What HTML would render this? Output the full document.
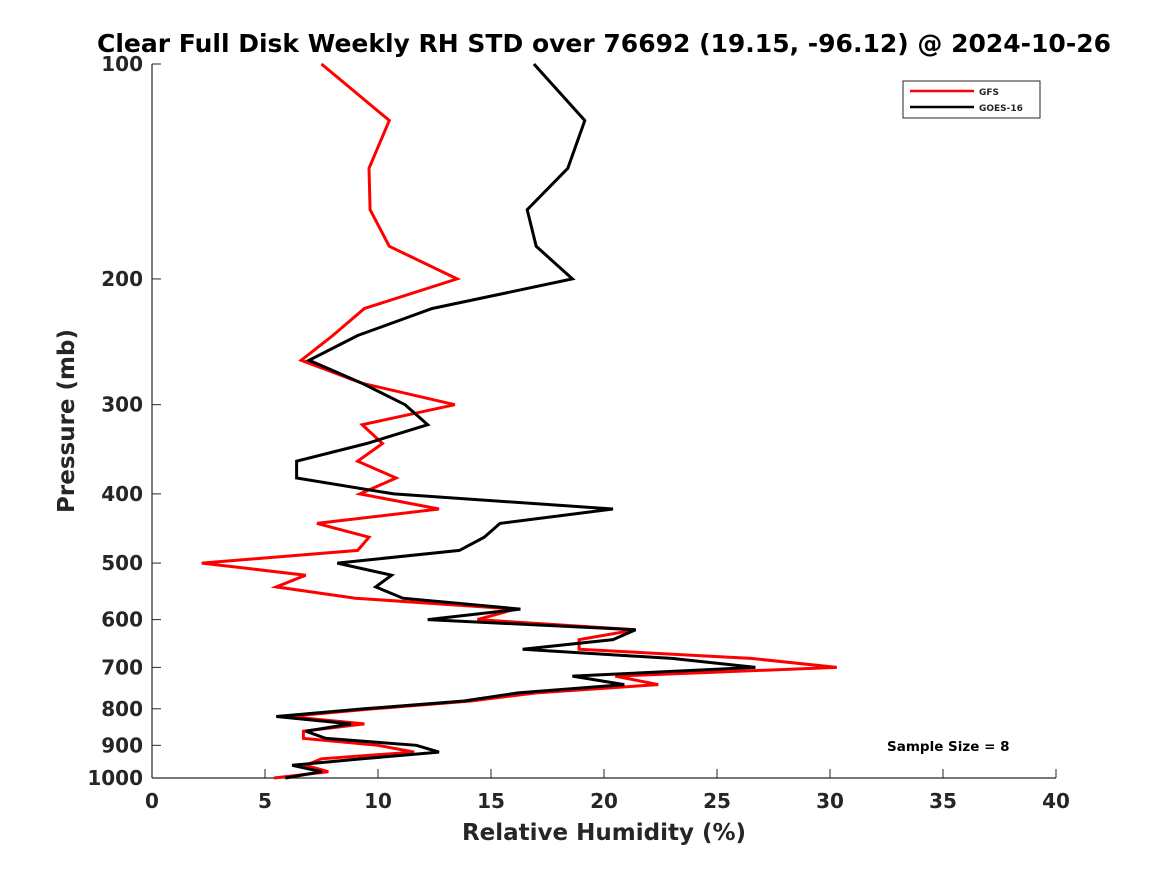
<!DOCTYPE html>
<html><head><meta charset="utf-8"><style>
body{margin:0;background:#fff;}
svg text{font-family:"DejaVu Sans","Liberation Sans",sans-serif;font-weight:bold;fill:#262626;}
</style></head><body>
<svg id="chart" width="1167" height="875" xmlns="http://www.w3.org/2000/svg">
<rect width="1167" height="875" fill="#fff"/>
<text x="604" y="52" font-size="25" text-anchor="middle" style="fill:#000">Clear Full Disk Weekly RH STD over 76692 (19.15, -96.12) @ 2024-10-26</text>
<g id="axes"></g>
<g id="series"></g>
<text x="604" y="840" font-size="23" text-anchor="middle">Relative Humidity (%)</text>
<text transform="translate(74,421) rotate(-90)" font-size="23" text-anchor="middle">Pressure (mb)</text>
<g>
<rect x="903" y="81" width="137" height="37" fill="#fff" stroke="#262626" stroke-width="1"/>
<line x1="910" y1="91" x2="974" y2="91" stroke="#ff0000" stroke-width="2.5"/>
<text x="979" y="95" font-size="9">GFS</text>
<line x1="910" y1="107" x2="974" y2="107" stroke="#000" stroke-width="2.5"/>
<text x="979" y="111" font-size="9">GOES-16</text>
</g>
<text x="887" y="751" font-size="13.5" style="fill:#000">Sample Size = 8</text>
</svg>
<script>
const levels=[100,120,140,160,180,200,220,240,260,280,300,320,340,360,380,400,420,440,460,480,500,520,540,560,580,600,620,640,660,680,700,720,740,760,780,800,820,840,860,880,900,920,940,960,980,1000];
const gfs=[7.5,10.5,9.6,9.65,10.5,13.5,9.4,8.0,6.6,9.3,13.4,9.3,10.2,9.1,10.8,9.2,12.7,7.3,9.6,9.1,2.2,6.8,5.5,9.0,16.1,14.4,21.4,18.9,18.9,26.5,30.3,20.5,22.4,17.0,14.1,9.8,6.0,9.4,6.7,6.7,10.0,11.6,7.5,6.8,7.8,5.4];
const goes=[16.9,19.15,18.4,16.6,17.0,18.6,12.4,9.1,6.95,9.3,11.2,12.2,9.5,6.4,6.4,10.7,20.4,15.4,14.7,13.6,8.2,10.6,9.9,11.1,16.3,12.2,21.4,20.4,16.4,23.0,26.7,18.6,20.9,16.2,13.8,9.4,5.5,8.8,6.8,7.7,11.7,12.7,9.3,6.2,7.5,5.9];
const xTicks=[0,5,10,15,20,25,30,35,40];
const yTicks=[100,200,300,400,500,600,700,800,900,1000];
const X0=152,X1=1056,Y0=64,Y1=778;
function xs(v){return X0+(v-0)/(40-0)*(X1-X0);}
function ys(p){return Y0+(Math.log10(p)-2)/(1)*(Y1-Y0);}
const NS="http://www.w3.org/2000/svg";
const ax=document.getElementById('axes');
function mk(tag,attrs,parent){const e=document.createElementNS(NS,tag);for(const k in attrs)e.setAttribute(k,attrs[k]);parent.appendChild(e);return e;}
let l=mk('line',{x1:X0,y1:Y0,x2:X0,y2:Y1,stroke:'#262626','stroke-width':1.2},ax);


l=mk('line',{x1:X0,y1:Y1,x2:X1,y2:Y1,stroke:'#262626','stroke-width':1.2},ax);


xTicks.forEach(v=>{
 const x=xs(v);
 mk('line',{x1:x,y1:Y1,x2:x,y2:Y1-9,stroke:'#262626','stroke-width':1},ax);
 const t=mk('text',{x:x,y:808,'font-size':20,'text-anchor':'middle'},ax);
 t.textContent=v;
 
 
});
yTicks.forEach(p=>{
 const y=ys(p);
 mk('line',{x1:X0,y1:y,x2:X0+9,y2:y,stroke:'#262626','stroke-width':1},ax);
 const t=mk('text',{x:143,y:y+7,'font-size':20,'text-anchor':'end'},ax);
 t.textContent=p;
 
 
});
const sg=document.getElementById('series');
function draw(vals,color,name){
 const pts=vals.map((v,i)=>xs(v).toFixed(1)+','+ys(levels[i]).toFixed(1)).join(' ');
 const pl=mk('polyline',{points:pts,fill:'none',stroke:color,'stroke-width':3,'stroke-linejoin':'miter'},sg);
 
 
}
draw(gfs,'#ff0000','gfs-line');
draw(goes,'#000','goes16-line');
</script>
</body></html>
